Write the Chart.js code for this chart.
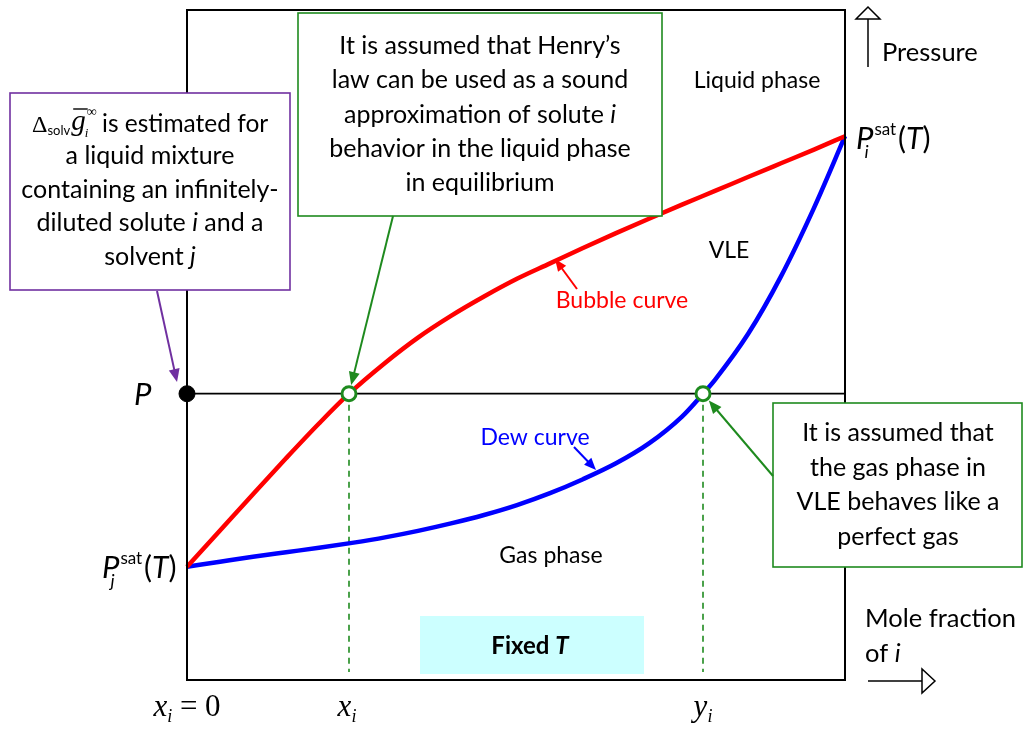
<!DOCTYPE html>
<html lang="en">
<head>
<meta charset="UTF-8">
<title>Bubble and dew curves at fixed T</title>
<script src="https://cdn.jsdelivr.net/npm/chart.js"></script>
<style>
  html, body { margin: 0; padding: 0; background: #fff; }
  #wrap { width: 1023px; height: 731px; position: relative; }
</style>
</head>
<body>
<div id="wrap"><canvas id="phaseChart"></canvas></div>
<script>
// x = mole fraction of i, P = pressure scaled 0..1 (frame bottom..top)
const bubbleX = [0, 0.0502, 0.1003, 0.1505, 0.2006, 0.2462, 0.3009, 0.3511, 0.4012, 0.4514, 0.5015,
                 0.5517, 0.6018, 0.6520, 0.7021, 0.7523, 0.8024, 0.8526, 0.9027, 0.9529, 1];
const bubbleP = [0.1691, 0.2233, 0.2774, 0.3309, 0.3828, 0.4273, 0.4733, 0.5111, 0.5435, 0.5724, 0.5988,
                 0.6218, 0.6448, 0.6669, 0.6884, 0.7095, 0.7300, 0.7507, 0.7712, 0.7917, 0.8116];
const dewX = [0, 0.0502, 0.1003, 0.1505, 0.2006, 0.2508, 0.3009, 0.3511, 0.4012, 0.4514, 0.5015,
              0.5517, 0.6018, 0.6520, 0.7021, 0.7523, 0.7842, 0.8024, 0.8526, 0.9027, 0.9529, 1];
const dewP = [0.1691, 0.1766, 0.1840, 0.1907, 0.1973, 0.2047, 0.2129, 0.2226, 0.2337, 0.2463, 0.2611,
              0.2789, 0.2997, 0.3234, 0.3531, 0.3932, 0.4273, 0.4481, 0.5163, 0.6024, 0.7047, 0.8116];
const pLevel = 0.4273;
const xLiq = 0.2462;   // x_i
const yVap = 0.7842;   // y_i

const toPts = (xs, ys) => xs.map((x, k) => ({ x: x, y: ys[k] }));

const SANS = 'Lato, "Open Sans", sans-serif';
const MATH = '"Liberation Serif", "DejaVu Serif", serif';
const n = s => s + 'px ' + SANS;
const it = s => 'italic ' + s + 'px ' + SANS;
const GREEN = '#1e8a1e';
const PURPLE = '#7030a0';

function drawRuns(ctx, parts, x, y, align) {
  let w = 0;
  parts.forEach(p => { ctx.font = p[1]; w += ctx.measureText(p[0]).width; });
  let cx = align === 'left' ? x : x - w / 2;
  ctx.textAlign = 'left';
  parts.forEach(p => { ctx.font = p[1]; ctx.fillText(p[0], cx, y + (p[2] || 0)); cx += ctx.measureText(p[0]).width; });
}

function arrow(ctx, x1, y1, x2, y2, color, lw, hl, hw) {
  const a = Math.atan2(y2 - y1, x2 - x1);
  ctx.save();
  ctx.strokeStyle = color; ctx.fillStyle = color; ctx.lineWidth = lw;
  ctx.beginPath();
  ctx.moveTo(x1, y1);
  ctx.lineTo(x2 - Math.cos(a) * hl * 0.8, y2 - Math.sin(a) * hl * 0.8);
  ctx.stroke();
  ctx.beginPath();
  ctx.moveTo(x2, y2);
  ctx.lineTo(x2 - Math.cos(a) * hl + Math.sin(a) * hw / 2, y2 - Math.sin(a) * hl - Math.cos(a) * hw / 2);
  ctx.lineTo(x2 - Math.cos(a) * hl - Math.sin(a) * hw / 2, y2 - Math.sin(a) * hl + Math.cos(a) * hw / 2);
  ctx.closePath();
  ctx.fill();
  ctx.restore();
}

function box(ctx, l, t, r, b, color) {
  ctx.save();
  ctx.fillStyle = '#fff';
  ctx.fillRect(l, t, r - l, b - t);
  ctx.strokeStyle = color; ctx.lineWidth = 1.6;
  ctx.strokeRect(l, t, r - l, b - t);
  ctx.restore();
}

// P^sat_sub(T) label, x = left edge of P
function psat(ctx, x, base, sub) {
  ctx.textAlign = 'left';
  ctx.font = 'italic 31px ' + SANS;
  ctx.fillText('P', x, base);
  const pw = ctx.measureText('P').width;
  ctx.font = n(17);
  ctx.fillText('sat', x + pw + 1, base - 14);
  const sw = ctx.measureText('sat').width;
  ctx.font = 'italic 18px ' + SANS;
  ctx.fillText(sub, x + pw - 9, base + 9);
  drawRuns(ctx, [['(', n(30)], ['T', it(30)], [')', n(30)]], Math.max(x + 42, x + pw + sw + 2), base, 'left');
}

const annotations = {
  id: 'annotations',
  beforeDatasetsDraw(chart) {
    const ctx = chart.ctx;
    ctx.save();
    ctx.fillStyle = '#ccffff';
    ctx.fillRect(420, 616, 224, 58);
    ctx.fillStyle = '#000';
    ctx.textBaseline = 'alphabetic';
    drawRuns(ctx, [['Fixed ', 'bold 24px ' + SANS], ['T', 'italic bold 24px ' + SANS]], 530, 654, 'center');
    ctx.restore();
  },
  afterDatasetsDraw(chart) {
    const ctx = chart.ctx;
    const a = chart.chartArea;
    const xs = chart.scales.x, ys = chart.scales.y;
    ctx.save();
    // frame
    ctx.strokeStyle = '#000'; ctx.lineWidth = 2;
    ctx.strokeRect(a.left, a.top, a.right - a.left, a.bottom - a.top);

    ctx.fillStyle = '#000';
    ctx.textAlign = 'center';
    ctx.font = n(23);
    ctx.fillText('Liquid phase', 757, 88);
    ctx.fillText('VLE', 729, 258);
    ctx.fillText('Gas phase', 551, 563);
    ctx.fillStyle = '#ff0000';
    ctx.fillText('Bubble curve', 622, 308);
    ctx.fillStyle = '#0000ff';
    ctx.fillText('Dew curve', 535, 445);
    arrow(ctx, 577, 289, 555, 259, '#ff0000', 2, 12, 10);
    arrow(ctx, 574, 447, 596, 470, '#0000ff', 2, 12, 10);

    // axis hints
    ctx.fillStyle = '#000';
    ctx.textAlign = 'left';
    ctx.font = n(25.5);
    ctx.fillText('Pressure', 882, 61);
    ctx.fillText('Mole fraction', 865, 627);
    drawRuns(ctx, [['of ', n(25.5)], ['i', it(25.5)]], 865, 662, 'left');
    ctx.strokeStyle = '#000'; ctx.lineWidth = 1.5; ctx.fillStyle = '#fff';
    ctx.beginPath(); ctx.moveTo(868, 67); ctx.lineTo(868, 19); ctx.stroke();
    ctx.beginPath(); ctx.moveTo(868, 7); ctx.lineTo(856, 19); ctx.lineTo(880, 19); ctx.closePath(); ctx.fill(); ctx.stroke();
    ctx.beginPath(); ctx.moveTo(868, 681); ctx.lineTo(922, 681); ctx.stroke();
    ctx.beginPath(); ctx.moveTo(935, 681); ctx.lineTo(922, 669); ctx.lineTo(922, 693); ctx.closePath(); ctx.fill(); ctx.stroke();

    // pressure labels
    ctx.fillStyle = '#000';
    ctx.font = 'italic 31px ' + SANS;
    ctx.textAlign = 'left';
    ctx.fillText('P', 134, ys.getPixelForValue(pLevel) + 11);
    psat(ctx, 856, ys.getPixelForValue(bubbleP[bubbleP.length - 1]) + 13, 'i');
    psat(ctx, 102, ys.getPixelForValue(bubbleP[0]) + 11, 'j');

    // composition labels
    const xb = a.bottom + 36;
    drawRuns(ctx, [['x', 'italic 31px ' + MATH], ['i', 'italic 18px ' + MATH, 6], [' = 0', '31px ' + MATH]], xs.getPixelForValue(0), xb, 'center');
    drawRuns(ctx, [['x', 'italic 31px ' + MATH], ['i', 'italic 18px ' + MATH, 6]], xs.getPixelForValue(xLiq) - 2, xb, 'center');
    drawRuns(ctx, [['y', 'italic 31px ' + MATH], ['i', 'italic 18px ' + MATH, 6]], xs.getPixelForValue(yVap), xb, 'center');

    // callout boxes
    const pY = ys.getPixelForValue(pLevel);
    const cL = xs.getPixelForValue(xLiq), cV = xs.getPixelForValue(yVap);
    const tip = (x1, y1, cx, cy, r) => {
      const d = Math.hypot(x1 - cx, y1 - cy);
      return [cx + (x1 - cx) / d * r, cy + (y1 - cy) / d * r];
    };

    box(ctx, 298, 13, 662, 216, GREEN);
    let t = tip(393, 216, cL, pY, 9);
    arrow(ctx, 393, 216, t[0], t[1], GREEN, 2, 13, 11);
    ctx.fillStyle = '#000';
    const topLines = [
      [['It is assumed that Henry\u2019s', n(25)]],
      [['law can be used as a sound', n(25)]],
      [['approximation of solute ', n(25)], ['i', it(25)]],
      [['behavior in the liquid phase', n(25)]],
      [['in equilibrium', n(25)]]
    ];
    topLines.forEach((l, k) => drawRuns(ctx, l, 480, 54 + k * 34.3, 'center'));

    box(ctx, 10, 93, 290, 290, PURPLE);
    arrow(ctx, 157, 291, 177, 382, PURPLE, 2, 13, 11);
    ctx.fillStyle = '#000';
    // Δ_solv ḡ_i^∞ line
    ctx.textAlign = 'left';
    let x0 = 32;
    ctx.font = '24px ' + MATH; ctx.fillText('\u0394', x0, 132); x0 += ctx.measureText('\u0394').width;
    ctx.font = '13px ' + SANS; ctx.fillText('solv', x0, 135); x0 += ctx.measureText('solv').width + 1;
    ctx.font = 'italic 29px ' + MATH; ctx.fillText('g', x0, 130);
    const gw = ctx.measureText('g').width;
    ctx.lineWidth = 1.4; ctx.strokeStyle = '#000';
    ctx.beginPath(); ctx.moveTo(x0 + 2, 109); ctx.lineTo(x0 + gw + 2, 109); ctx.stroke();
    ctx.font = 'italic 13px ' + MATH; ctx.fillText('i', x0 + gw - 1, 137);
    ctx.font = '14px ' + MATH; ctx.fillText('\u221e', x0 + gw + 1, 116);
    ctx.font = n(24.5); ctx.fillText('is estimated for', 102, 132);
    const purpleLines = [
      [['a liquid mixture', n(25)]],
      [['containing an infinitely-', n(25)]],
      [['diluted solute ', n(25)], ['i', it(25)], [' and a', n(25)]],
      [['solvent ', n(25)], ['j', it(25)]]
    ];
    purpleLines.forEach((l, k) => drawRuns(ctx, l, 150, 164 + k * 33.5, 'center'));

    box(ctx, 773, 403, 1022, 567, GREEN);
    t = tip(773, 476, cV, pY, 9);
    arrow(ctx, 773, 476, t[0], t[1], GREEN, 2, 13, 11);
    ctx.fillStyle = '#000';
    ['It is assumed that', 'the gas phase in', 'VLE behaves like a', 'perfect gas']
      .forEach((s, k) => drawRuns(ctx, [[s, n(25)]], 898, 441 + k * 34.7, 'center'));
    ctx.restore();
  }
};

new Chart(document.getElementById('phaseChart'), {
  type: 'scatter',
  data: {
    datasets: [
      { data: [{ x: xLiq, y: pLevel }, { x: yVap, y: pLevel }], pointRadius: 7, pointBorderWidth: 3,
        pointBackgroundColor: '#fff', pointBorderColor: GREEN, showLine: false, order: 0, clip: false },
      { data: [{ x: 0, y: pLevel }], pointRadius: 8, pointBackgroundColor: '#000', pointBorderColor: '#000',
        showLine: false, order: 0, clip: false },
      { data: toPts(bubbleX, bubbleP), showLine: true, borderColor: '#ff0000', borderWidth: 4.5,
        pointRadius: 0, cubicInterpolationMode: 'monotone', order: 2, clip: false },
      { data: toPts(dewX, dewP), showLine: true, borderColor: '#0000ff', borderWidth: 4.5,
        pointRadius: 0, cubicInterpolationMode: 'monotone', order: 2, clip: false },
      { data: [{ x: 0, y: pLevel }, { x: 1, y: pLevel }], showLine: true, borderColor: '#000',
        borderWidth: 1.8, pointRadius: 0, order: 3 },
      { data: [{ x: xLiq, y: pLevel }, { x: xLiq, y: 0.012 }], showLine: true, borderColor: GREEN,
        borderWidth: 1.6, borderDash: [6, 5], pointRadius: 0, order: 3 },
      { data: [{ x: yVap, y: pLevel }, { x: yVap, y: 0.012 }], showLine: true, borderColor: GREEN,
        borderWidth: 1.6, borderDash: [6, 5], pointRadius: 0, order: 3 }
    ]
  },
  options: {
    responsive: true,
    maintainAspectRatio: false,
    animation: false,
    layout: { padding: { left: 187, right: 178, top: 6, bottom: 51 } },
    plugins: { legend: { display: false }, tooltip: { enabled: false } },
    scales: {
      x: { type: 'linear', min: 0, max: 1, display: false },
      y: { type: 'linear', min: 0, max: 1, display: false }
    }
  },
  plugins: [annotations]
});
</script>
</body>
</html>
